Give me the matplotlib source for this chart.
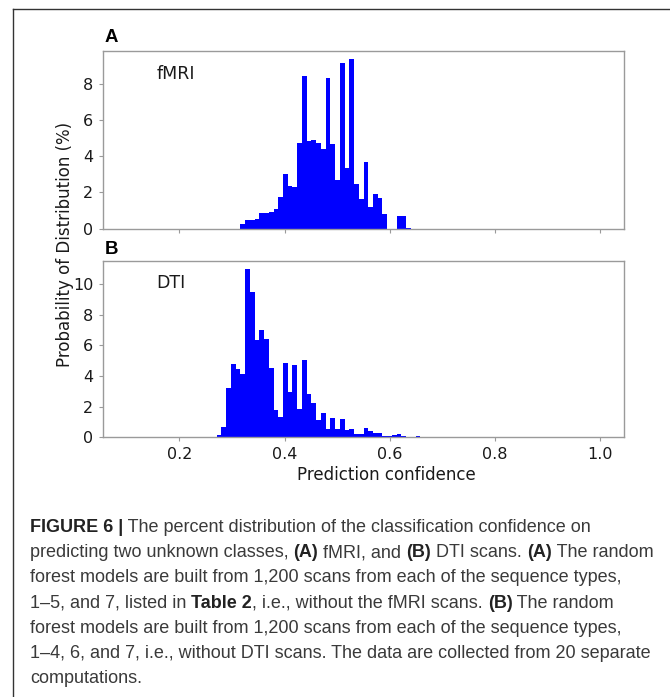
import numpy as np
import matplotlib.pyplot as plt
from matplotlib.lines import Line2D
from matplotlib.transforms import IdentityTransform

# histogram bins used for both panels: 100 bins over 0.1 - 1.0
bin_lo, bin_hi, n_bins = 0.1, 1.0, 100

# percent of scans per bin (fMRI), first value is bin #24 (0.316 - 0.325)
fmri_first_bin = 24
fmri_pct = [0.24, 0.46, 0.46, 0.55, 0.87, 0.87, 0.89, 1.1, 1.75, 3.0,
            2.36, 2.3, 4.75, 8.4, 4.84, 4.88, 4.73, 4.38, 8.34, 4.66,
            2.67, 9.12, 3.35, 9.34, 2.45, 1.62, 3.7, 1.2, 1.9, 1.68,
            0.79, 0.0, 0.0, 0.68, 0.68, 0.04]

# percent of scans per bin (DTI), first value is bin #19 (0.271 - 0.280)
dti_first_bin = 19
dti_pct = [0.18, 0.68, 3.25, 4.8, 4.45, 4.16, 11.0, 9.5, 6.34, 7.04,
           6.45, 4.55, 1.76, 1.33, 4.86, 2.96, 4.7, 1.87, 5.08, 2.85,
           2.24, 1.11, 1.59, 0.52, 1.26, 0.52, 1.2, 0.5, 0.54, 0.24,
           0.2, 0.63, 0.44, 0.28, 0.28, 0.11, 0.11, 0.13, 0.22, 0.11,
           0.0, 0.0, 0.06]

panel_names = ['fMRI', 'DTI']
panel_letters = ['A', 'B']
x_ticks = [0.2, 0.4, 0.6, 0.8, 1.0]
y_ticks = [[0, 2, 4, 6, 8], [0, 2, 4, 6, 8, 10]]
x_label = 'Prediction confidence'
y_label = 'Probability of Distribution (%)'

caption_lines = [
    [('FIGURE 6 |', True), (' The percent distribution of the classification confidence on', False)],
    [('predicting two unknown classes, ', False), ('(A)', True), (' fMRI, and ', False),
     ('(B)', True), (' DTI scans. ', False), ('(A)', True), (' The random', False)],
    [('forest models are built from 1,200 scans from each of the sequence types,', False)],
    [('1\u20135, and 7, listed in ', False), ('Table 2', True),
     (', i.e., without the fMRI scans. ', False), ('(B)', True), (' The random', False)],
    [('forest models are built from 1,200 scans from each of the sequence types,', False)],
    [('1\u20134, 6, and 7, i.e., without DTI scans. The data are collected from 20 separate', False)],
    [('computations.', False)],
]

W, H = 670, 697
edges = np.linspace(bin_lo, bin_hi, n_bins + 1)


def full_hist(first, vals):
    h = np.zeros(n_bins)
    h[first:first + len(vals)] = vals
    return h


fig = plt.figure(figsize=(W / 100, H / 100), dpi=100)
spine_col = '#9a9a9a'

ax_top = fig.add_axes([103 / W, 1 - 228.5 / H, 521 / W, 177.5 / H])
ax_bot = fig.add_axes([103 / W, 1 - 437.3 / H, 521 / W, 176.8 / H], sharex=ax_top)

for i, (ax, first, vals) in enumerate([(ax_top, fmri_first_bin, fmri_pct),
                                        (ax_bot, dti_first_bin, dti_pct)]):
    ax.hist(edges[:-1], bins=edges, weights=full_hist(first, vals),
            color='#0000ff', edgecolor='none')
    ax.set_yticks(y_ticks[i])
    ax.set_xticks(x_ticks)
    for s in ax.spines.values():
        s.set_color(spine_col)
        s.set_linewidth(1.0)
    ax.tick_params(length=3, width=0.8, color=spine_col, labelsize=11.5,
                   labelcolor='#1a1a1a', pad=4)
    ax.text(0.102, 0.845, panel_names[i], transform=ax.transAxes,
            fontsize=12.5, color='#1a1a1a', ha='left', va='baseline')

ax_top.tick_params(labelbottom=False)

# panel letters
fig.text(104.5, H - 41.7, panel_letters[0], transform=IdentityTransform(),
         family='Liberation Sans', weight='bold', fontsize=13.4, va='baseline')
fig.text(104.5, H - 254, panel_letters[1], transform=IdentityTransform(),
         family='Liberation Sans', weight='bold', fontsize=13.4, va='baseline')

# axis labels
fig.text(65, H - 244, y_label, transform=IdentityTransform(), rotation=90,
         fontsize=12, ha='center', va='center', color='#1a1a1a')
fig.text(386, H - 475, x_label, transform=IdentityTransform(),
         fontsize=12, ha='center', va='center', color='#1a1a1a')

# outer frame (left and top edge)
fig.add_artist(Line2D([13.3, 13.3], [0, H - 9], transform=IdentityTransform(),
                      color='#333333', lw=1.0))
fig.add_artist(Line2D([13.3, W], [H - 9, H - 9], transform=IdentityTransform(),
                      color='#333333', lw=1.0))

# caption with bold runs
renderer = fig.canvas.get_renderer()
cap_size = 13.0


def run_width(txt, bold):
    kw = dict(family='Liberation Sans', fontsize=cap_size,
              weight='bold' if bold else 'normal', transform=IdentityTransform())
    t1 = fig.text(0, 0, '|' + txt + '|', **kw)
    t2 = fig.text(0, 0, '||', **kw)
    w = t1.get_window_extent(renderer).width - t2.get_window_extent(renderer).width
    t1.remove()
    t2.remove()
    return w


for li, segs in enumerate(caption_lines):
    x = 30
    y = H - (532 + li * 25.2)
    for txt, bold in segs:
        fig.text(x, y, txt, transform=IdentityTransform(), family='Liberation Sans',
                 fontsize=cap_size, weight='bold' if bold else 'normal',
                 color='#222222' if bold else '#3a3a3a', va='baseline', ha='left')
        x += run_width(txt, bold)

fig.savefig('out.png', dpi=100)
